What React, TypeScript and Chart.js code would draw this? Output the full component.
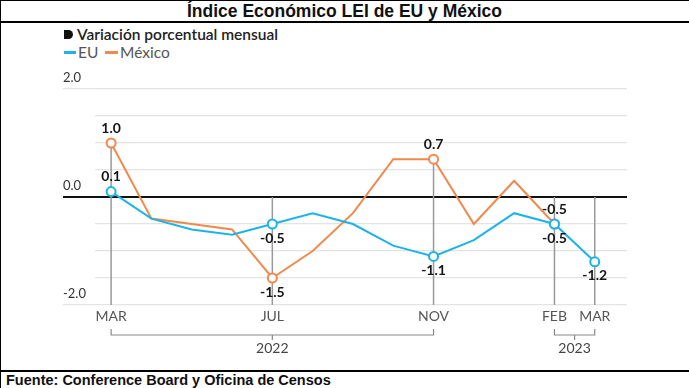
import React, { useEffect, useRef } from 'react';
import { Chart, registerables } from 'chart.js';

Chart.register(...registerables);

// ---- data ----
const months = ['MAR', 'ABR', 'MAY', 'JUN', 'JUL', 'AGO', 'SEP', 'OCT', 'NOV', 'DIC', 'ENE', 'FEB', 'MAR'];
const tickMonths = [0, 4, 8, 11, 12];
const euValues = [0.1, -0.4, -0.6, -0.7, -0.5, -0.3, -0.5, -0.9, -1.1, -0.8, -0.3, -0.5, -1.2];
const mexValues = [1.0, -0.4, -0.5, -0.6, -1.5, -1.0, -0.3, 0.7, 0.7, -0.5, 0.3, -0.5];
const yLabelValues = [2, 0, -2];
const yearGroups = [
  { label: '2022', from: 0, to: 8 },
  { label: '2023', from: 11, to: 12 },
];
// labelled points: index -> 'above' | 'below'
const euLabels: Record<number, string> = { 0: 'above', 4: 'below', 8: 'below', 11: 'below', 12: 'below' };
const mexLabels: Record<number, string> = { 0: 'above', 4: 'below', 8: 'above', 11: 'above' };

const EU_COLOR = '#1db3e8';
const MX_COLOR = '#f0894b';
const FONT = 'Lato, "Noto Sans", sans-serif';

const extrasPlugin = {
  id: 'extras',
  beforeDatasetsDraw(chart: any) {
    const { ctx, chartArea, scales } = chart;
    const x = scales.x;
    const y = scales.y;
    ctx.save();
    ctx.strokeStyle = '#9a9a9a';
    ctx.lineWidth = 1.5;
    tickMonths.forEach((i) => {
      const vals = [euValues[i], mexValues[i]].filter((v) => v !== undefined && v !== null) as number[];
      const mx = Math.max(0, ...vals);
      const px = x.getPixelForValue(i);
      ctx.beginPath();
      ctx.moveTo(px, y.getPixelForValue(mx));
      ctx.lineTo(px, chartArea.bottom);
      ctx.stroke();
    });
    ctx.restore();
  },
  afterDatasetsDraw(chart: any) {
    const { ctx } = chart;
    ctx.save();
    ctx.font = `bold 14px ${FONT}`;
    ctx.fillStyle = '#151515';
    ctx.textAlign = 'center';
    ctx.textBaseline = 'middle';
    const drawFor = (dsIndex: number, values: number[], labels: Record<number, string>) => {
      const meta = chart.getDatasetMeta(dsIndex);
      Object.keys(labels).forEach((k) => {
        const i = Number(k);
        const pt = meta.data[i];
        if (!pt) return;
        const off = labels[i] === 'above' ? -15 : 14;
        ctx.fillText(values[i].toFixed(1), pt.x, pt.y + off);
      });
    };
    drawFor(0, euValues, euLabels);
    drawFor(1, mexValues, mexLabels);
    ctx.restore();
  },
  afterDraw(chart: any) {
    const { ctx, chartArea, scales } = chart;
    const x = scales.x;
    const base = chartArea.bottom;
    ctx.save();
    ctx.strokeStyle = '#8a8a8a';
    ctx.lineWidth = 1.2;
    ctx.font = `14px ${FONT}`;
    ctx.fillStyle = '#444';
    ctx.textAlign = 'center';
    ctx.textBaseline = 'middle';
    yearGroups.forEach((g) => {
      const x1 = x.getPixelForValue(g.from);
      const x2 = x.getPixelForValue(g.to);
      const xm = (x1 + x2) / 2;
      const yb = base + 30;
      ctx.beginPath();
      ctx.moveTo(x1, base + 24);
      ctx.lineTo(x1, yb);
      ctx.lineTo(x2, yb);
      ctx.lineTo(x2, base + 24);
      ctx.moveTo(xm, yb);
      ctx.lineTo(xm, yb + 5);
      ctx.stroke();
      ctx.fillText(g.label, xm, base + 43);
    });
    ctx.restore();
  },
};

export default function App() {
  const ref = useRef<HTMLCanvasElement | null>(null);

  useEffect(() => {
    if (!ref.current) return;
    const chart = new Chart(ref.current, {
      type: 'line',
      data: {
        datasets: [
          {
            label: 'EU',
            data: euValues.map((v, i) => ({ x: i, y: v })),
            borderColor: EU_COLOR,
            backgroundColor: '#ffffff',
            borderWidth: 2,
            tension: 0,
            pointRadius: euValues.map((_, i) => (euLabels[i] ? 4.5 : 0)),
            pointBorderWidth: 2,
            pointBackgroundColor: '#ffffff',
            pointBorderColor: EU_COLOR,
          },
          {
            label: 'México',
            data: mexValues.map((v, i) => ({ x: i, y: v })),
            borderColor: MX_COLOR,
            backgroundColor: '#ffffff',
            borderWidth: 2,
            tension: 0,
            pointRadius: mexValues.map((_, i) => (mexLabels[i] ? 4.5 : 0)),
            pointBorderWidth: 2,
            pointBackgroundColor: '#ffffff',
            pointBorderColor: MX_COLOR,
          },
        ],
      },
      options: {
        responsive: false,
        animation: false,
        layout: { padding: { left: 61, right: 62, top: 65, bottom: 0 } },
        plugins: {
          legend: { display: false },
          title: { display: false },
          tooltip: { enabled: false },
        },
        scales: {
          x: {
            type: 'linear',
            min: -0.4,
            max: 12.8,
            grid: { display: false, drawTicks: false },
            border: { display: false },
            afterBuildTicks: (s: any) => {
              s.ticks = tickMonths.map((v) => ({ value: v }));
            },
            afterFit: (s: any) => {
              s.height = 64;
            },
            ticks: {
              autoSkip: false,
              maxRotation: 0,
              padding: 3,
              color: '#555',
              font: { family: FONT, size: 14 },
              callback: (v: any) => months[v as number] ?? '',
            },
          },
          y: {
            min: -2,
            max: 2,
            border: { display: false },
            afterFit: (s: any) => {
              s.width = 32;
            },
            grid: {
              color: (c: any) => (c.tick && c.tick.value === 0 ? '#111' : '#e4e4e4'),
              lineWidth: (c: any) => (c.tick && c.tick.value === 0 ? 2 : 1.2),
              drawTicks: true,
              tickLength: 32,
              tickColor: (c: any) =>
                c.tick && yLabelValues.includes(c.tick.value)
                  ? c.tick.value === 0
                    ? '#111'
                    : '#e4e4e4'
                  : 'rgba(0,0,0,0)',
              tickWidth: (c: any) => (c.tick && c.tick.value === 0 ? 2 : 1.2),
            },
            ticks: {
              stepSize: 0.5,
              mirror: true,
              padding: -32,
              labelOffset: -11,
              color: '#333',
              font: { family: FONT, size: 13 },
              callback: (v: any) => (yLabelValues.includes(v as number) ? (v as number).toFixed(1) : ''),
            },
          },
        },
      },
      plugins: [extrasPlugin],
    } as any);
    return () => chart.destroy();
  }, []);

  const abs = (s: React.CSSProperties): React.CSSProperties => ({ position: 'absolute', ...s });

  return (
    <div
      style={{
        position: 'fixed',
        left: 0,
        top: 0,
        width: 689,
        height: 388,
        background: '#fff',
        overflow: 'hidden',
        fontFamily: '"Liberation Sans", Arial, sans-serif',
      }}
    >
      <div style={abs({ left: 0, top: 0, width: 689, height: 1, background: '#000' })} />
      <div style={abs({ left: 0, top: 0, width: 1, height: 388, background: '#000' })} />
      <div style={abs({ left: 0, top: 21, width: 689, height: 2, background: '#000' })} />
      <div style={abs({ left: 0, top: 370, width: 689, height: 2, background: '#000' })} />
      <div
        style={abs({
          left: 0,
          top: 0,
          width: 689,
          height: 22,
          lineHeight: '22px',
          textAlign: 'center',
          fontWeight: 'bold',
          fontSize: 17.5,
          color: '#111',
        })}
      >
        Índice Económico LEI de EU y México
      </div>
      <div
        style={abs({
          left: 6,
          top: 372,
          height: 16,
          lineHeight: '16px',
          fontWeight: 'bold',
          fontSize: 14.5,
          color: '#111',
          whiteSpace: 'nowrap',
        })}
      >
        Fuente: Conference Board y Oficina de Censos
      </div>
      {/* subtitle */}
      <div style={abs({ left: 64, top: 30, width: 9, height: 9, background: '#111', borderRadius: '0 4.5px 4.5px 0' })} />
      <div
        style={abs({
          left: 77,
          top: 25,
          height: 19,
          lineHeight: '19px',
          fontFamily: FONT,
          fontSize: 15.5,
          fontWeight: 600,
          color: '#222',
          whiteSpace: 'nowrap',
        })}
      >
        Variación porcentual mensual
      </div>
      {/* legend */}
      <div style={abs({ left: 64, top: 51, width: 12, height: 3, background: EU_COLOR })} />
      <div
        style={abs({ left: 78, top: 43, height: 19, lineHeight: '19px', fontFamily: FONT, fontSize: 15.5, color: '#555' })}
      >
        EU
      </div>
      <div style={abs({ left: 105, top: 51, width: 13, height: 3, background: MX_COLOR })} />
      <div
        style={abs({ left: 120, top: 43, height: 19, lineHeight: '19px', fontFamily: FONT, fontSize: 15.5, color: '#555' })}
      >
        México
      </div>
      <canvas ref={ref} width={687} height={345} style={abs({ left: 2, top: 24, width: 687, height: 345 })} />
    </div>
  );
}
